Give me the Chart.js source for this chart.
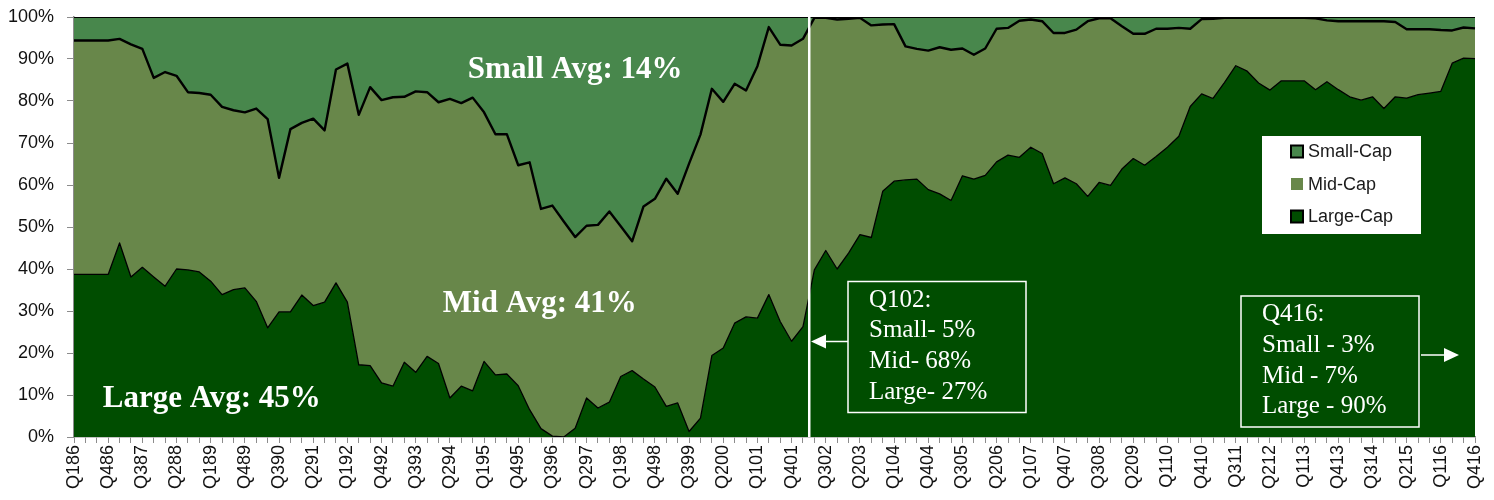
<!DOCTYPE html>
<html>
<head>
<meta charset="utf-8">
<title>Market cap mix</title>
<script src="https://cdn.jsdelivr.net/npm/chart.js@4.4.1/dist/chart.umd.min.js"></script>
<style>
  html, body { margin: 0; padding: 0; background: #fff; }
  #wrap { position: relative; width: 1494px; height: 500px; }
  #chart { display: block; }
</style>
</head>
<body>
<div id="wrap"><canvas id="chart" width="1494" height="500"></canvas></div>
<script>
/* ---------------- data (percent of total) ---------------- */

const quarters = [
  "Q186","Q286","Q386","Q486","Q187","Q287","Q387","Q487","Q188","Q288","Q388","Q488",
  "Q189","Q289","Q389","Q489","Q190","Q290","Q390","Q490","Q191","Q291","Q391","Q491",
  "Q192","Q292","Q392","Q492","Q193","Q293","Q393","Q493","Q194","Q294","Q394","Q494",
  "Q195","Q295","Q395","Q495","Q196","Q296","Q396","Q496","Q197","Q297","Q397","Q497",
  "Q198","Q298","Q398","Q498","Q199","Q299","Q399","Q499","Q100","Q200","Q300","Q400",
  "Q101","Q201","Q301","Q401","Q102","Q202","Q302","Q402","Q103","Q203","Q303","Q403",
  "Q104","Q204","Q304","Q404","Q105","Q205","Q305","Q405","Q106","Q206","Q306","Q406",
  "Q107","Q207","Q307","Q407","Q108","Q208","Q308","Q408","Q109","Q209","Q309","Q409",
  "Q110","Q210","Q310","Q410","Q111","Q211","Q311","Q411","Q112","Q212","Q312","Q412",
  "Q113","Q213","Q313","Q413","Q114","Q214","Q314","Q414","Q115","Q215","Q315","Q415",
  "Q116","Q216","Q316","Q416"
];

// labels actually printed under the axis
const tickLabels = [
  "Q186","Q486","Q387","Q288","Q189","Q489","Q390","Q291","Q192","Q492","Q393","Q294",
  "Q195","Q495","Q396","Q297","Q198","Q498","Q399","Q200","Q101","Q401","Q302","Q203",
  "Q104","Q404","Q305","Q206","Q107","Q407","Q308","Q209","Q110","Q410","Q311","Q212",
  "Q113","Q413","Q314","Q215","Q116","Q416"
];

const largeCap = [
  38.7,38.7,38.7,38.7,46.2,38.1,40.4,38.1,35.9,40.0,39.8,39.3,
  37.1,33.9,35.1,35.5,32.3,26.0,29.8,29.8,33.8,31.3,32.1,36.7,
  32.1,17.2,17.0,12.9,12.1,17.8,15.4,19.2,17.5,9.3,12.1,11.0,
  18.0,14.8,15.0,12.2,6.5,2.0,0.2,0.0,2.1,9.3,6.9,8.3,
  14.4,15.8,13.8,11.9,7.3,8.1,1.3,4.5,19.4,21.2,27.1,28.6,
  28.3,33.9,27.5,22.8,26.3,39.8,44.4,40.0,43.8,48.2,47.5,58.5,
  60.9,61.2,61.4,58.9,57.9,56.3,62.2,61.4,62.3,65.5,67.1,66.6,
  69.0,67.5,60.3,61.7,60.3,57.3,60.6,59.9,63.8,66.3,64.7,66.8,
  69.0,71.6,78.7,81.7,80.6,84.4,88.4,87.1,84.3,82.6,84.8,84.8,
  84.8,82.7,84.6,82.7,81.0,80.2,81.0,78.2,81.0,80.7,81.5,81.9,
  82.3,89.0,90.2,90.1
];

const midCap = [
  55.7,55.7,55.7,55.7,48.6,55.4,52.0,47.4,51.0,46.0,42.3,42.6,
  44.4,44.7,42.7,41.8,45.9,49.7,31.9,43.5,41.0,44.5,40.9,50.8,
  56.8,59.5,66.3,67.3,68.8,63.2,66.9,62.9,62.2,71.2,67.4,69.8,
  59.3,57.3,57.1,52.5,58.9,52.3,54.9,51.3,45.5,41.0,43.6,45.4,
  35.8,30.8,41.1,44.8,54.2,49.8,63.8,67.5,63.5,58.6,57.0,53.9,
  60.0,63.7,65.9,70.4,68.5,60.0,55.4,59.4,55.8,51.6,50.5,39.7,
  37.4,31.8,31.0,33.1,34.9,35.9,30.3,29.6,30.2,31.7,30.3,32.5,
  30.4,31.5,35.9,34.5,36.7,41.7,39.1,39.8,34.0,29.7,31.3,30.4,
  28.2,25.8,18.5,17.8,19.0,15.4,11.4,12.7,15.5,17.2,15.0,15.0,
  15.0,17.0,14.6,16.3,18.0,18.8,18.0,20.8,17.8,16.4,15.6,15.2,
  14.6,7.8,7.3,7.2
];

const smallCap = [
  5.6,5.6,5.6,5.6,5.2,6.5,7.6,14.5,13.1,14.0,17.9,18.1,
  18.5,21.4,22.2,22.7,21.8,24.3,38.3,26.7,25.2,24.2,27.0,12.5,
  11.1,23.3,16.7,19.8,19.1,19.0,17.7,17.9,20.3,19.5,20.5,19.2,
  22.7,27.9,27.9,35.3,34.6,45.7,44.9,48.7,52.4,49.7,49.5,46.3,
  49.8,53.4,45.1,43.3,38.5,42.1,34.9,28.0,17.1,20.2,15.9,17.5,
  11.7,2.4,6.6,6.8,5.2,0.2,0.2,0.6,0.4,0.2,2.0,1.8,
  1.7,7.0,7.6,8.0,7.2,7.8,7.5,9.0,7.5,2.8,2.6,0.9,
  0.6,1.0,3.8,3.8,3.0,1.0,0.3,0.3,2.2,4.0,4.0,2.8,
  2.8,2.6,2.8,0.5,0.4,0.2,0.2,0.2,0.2,0.2,0.2,0.2,
  0.2,0.3,0.8,1.0,1.0,1.0,1.0,1.0,1.2,2.9,2.9,2.9,
  3.1,3.2,2.5,2.7
];

const seriesNames = ["Large-Cap", "Mid-Cap", "Small-Cap"];
const legendOrder = ["Small-Cap", "Mid-Cap", "Large-Cap"];
const avgText = ["Small Avg: 14%", "Mid Avg: 41%", "Large Avg: 45%"];
const q102Text = ["Q102:", "Small- 5%", "Mid- 68%", "Large- 27%"];
const q416Text = ["Q416:", "Small - 3%", "Mid - 7%", "Large - 90%"];

/* ---------------- look ---------------- */

const COLORS = {
  "Large-Cap": "#004d00",
  "Mid-Cap": "#68874a",
  "Small-Cap": "#48874c"
};
const SANS = '"Liberation Sans", Arial, sans-serif';
const SERIF = '"Liberation Serif", "Times New Roman", serif';
const SPLIT_AT = 64.55;   // white divider just after Q102

// where the overlay text goes: x in category index units, y in percent
const avgPos = [
  { at: 44.0, pct: 85.5 },
  { at: 40.9, pct: 29.8 },
  { at: 12.1, pct: 7.1 }
];

// boxes in canvas pixels
const noteLayout = [
  { text: q102Text, box: [848, 281.5, 178, 131], arrow: { y: 341.5, from: 848, to: 811 } },
  { text: q416Text, box: [1241, 296, 178, 131], arrow: { y: 355, from: 1421, to: 1459 } }
];

const legendBox = { x: 1262, y: 136, w: 159, h: 98, rowY: [151.5, 184, 216.5], markX: 1291, textX: 1308 };

/* ---------------- overlay: divider, labels, call-outs, legend ---------------- */

function arrowHead(ctx, tipX, y, dir) {
  ctx.beginPath();
  ctx.moveTo(tipX, y);
  ctx.lineTo(tipX - dir * 15, y - 7);
  ctx.lineTo(tipX - dir * 15, y + 7);
  ctx.closePath();
  ctx.fill();
}

const overlay = {
  id: "overlay",
  afterDatasetsDraw(chart) {
    const { ctx, chartArea: area } = chart;
    const x = chart.scales.x, y = chart.scales.y;
    ctx.save();

    // divider
    const sx = x.getPixelForValue(SPLIT_AT);
    ctx.strokeStyle = "#fff";
    ctx.lineWidth = 2.5;
    ctx.beginPath();
    ctx.moveTo(sx, area.top - 1);
    ctx.lineTo(sx, area.bottom);
    ctx.stroke();

    // averages
    ctx.fillStyle = "#fff";
    ctx.font = "bold 31px " + SERIF;
    ctx.textAlign = "center";
    ctx.textBaseline = "alphabetic";
    avgText.forEach((t, k) => {
      ctx.fillText(t, x.getPixelForValue(avgPos[k].at), y.getPixelForValue(avgPos[k].pct));
    });

    // call-out boxes
    ctx.textAlign = "left";
    ctx.font = "25px " + SERIF;
    noteLayout.forEach(n => {
      const [bx, by, bw, bh] = n.box;
      ctx.strokeStyle = "#fff";
      ctx.lineWidth = 1.5;
      ctx.strokeRect(bx, by, bw, bh);
      n.text.forEach((line, k) => ctx.fillText(line, bx + 21, by + 25 + k * 30.8));

      const a = n.arrow, dir = a.to > a.from ? 1 : -1;
      ctx.lineWidth = 1.5;
      ctx.beginPath();
      ctx.moveTo(a.from, a.y);
      ctx.lineTo(a.to - dir * 14, a.y);
      ctx.stroke();
      arrowHead(ctx, a.to, a.y, dir);
    });

    // legend
    const L = legendBox;
    ctx.fillStyle = "#fff";
    ctx.fillRect(L.x, L.y, L.w, L.h);
    ctx.font = "18px " + SANS;
    ctx.textBaseline = "middle";
    legendOrder.forEach((name, k) => {
      const cy = L.rowY[k];
      ctx.fillStyle = COLORS[name];
      ctx.fillRect(L.markX, cy - 6, 12, 12);
      if (name !== "Mid-Cap") {
        ctx.strokeStyle = "#000";
        ctx.lineWidth = 2;
        ctx.strokeRect(L.markX, cy - 6, 12, 12);
      }
      ctx.fillStyle = "#1a1a1a";
      ctx.fillText(name, L.textX, cy + 1);
    });

    ctx.restore();
  }
};

/* ---------------- chart ---------------- */

function makeDataset(name, values, fill, borderWidth) {
  return {
    label: name,
    data: values,
    backgroundColor: COLORS[name],
    borderColor: "#000",
    borderWidth: borderWidth,
    fill: fill,
    pointRadius: 0,
    tension: 0,
    borderJoinStyle: "round"
  };
}

const showTick = new Set(tickLabels);

new Chart(document.getElementById("chart"), {
  type: "line",
  data: {
    labels: quarters,
    datasets: [
      makeDataset(seriesNames[0], largeCap, "origin", 1.3),
      makeDataset(seriesNames[1], midCap, "-1", 2.4),
      makeDataset(seriesNames[2], smallCap, "-1", 2)
    ]
  },
  options: {
    responsive: false,
    animation: false,
    devicePixelRatio: 1,
    layout: { padding: { top: 17, right: 19, left: 0, bottom: 0 } },
    plugins: {
      legend: { display: false },
      tooltip: { enabled: false }
    },
    scales: {
      x: {
        offset: false,
        grid: { drawOnChartArea: false, tickLength: 6, color: "#8c8c8c", lineWidth: 1 },
        border: { color: "#8c8c8c", width: 1.5 },
        ticks: {
          autoSkip: false,
          minRotation: 90,
          maxRotation: 90,
          padding: 2,
          color: "#111",
          font: { family: SANS, size: 18 },
          callback: function (v) {
            const q = this.getLabelForValue(v);
            return showTick.has(q) ? q : "";
          }
        },
        afterFit: s => { s.height = 63; s.paddingLeft = 0; s.paddingRight = 0; }
      },
      y: {
        stacked: true,
        min: 0,
        max: 100,
        grid: { drawOnChartArea: false, tickLength: 7, color: "#8c8c8c", lineWidth: 1 },
        border: { color: "#8c8c8c", width: 1.5 },
        ticks: {
          stepSize: 10,
          padding: 13,
          color: "#111",
          font: { family: SANS, size: 18 },
          callback: v => v + "%"
        },
        afterFit: s => { s.width = 74; s.paddingTop = 0; s.paddingBottom = 0; }
      }
    }
  },
  plugins: [overlay]
});
</script>
</body>
</html>
